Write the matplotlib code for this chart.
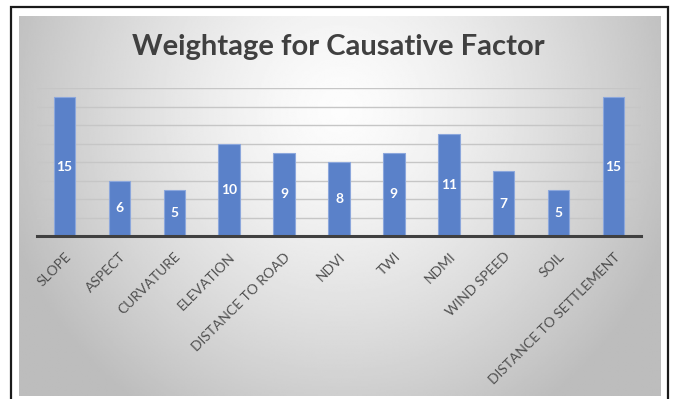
import numpy as np
import matplotlib.pyplot as plt
from matplotlib.patches import Rectangle

factors = ["SLOPE", "ASPECT", "CURVATURE", "ELEVATION", "DISTANCE TO ROAD", "NDVI",
           "TWI", "NDMI", "WIND SPEED", "SOIL", "DISTANCE TO SETTLEMENT"]
weights = [15, 6, 5, 10, 9, 8, 9, 11, 7, 5, 15]

W, H = 673, 399
fig = plt.figure(figsize=(W / 100, H / 100), dpi=100)
fig.patch.set_facecolor("white")


def px(x0, y0, x1, y1):
    # pixel box (top-left origin) -> figure fraction rect
    return [x0 / W, 1 - y1 / H, (x1 - x0) / W, (y1 - y0) / H]


# radial grey background
bg = fig.add_axes(px(19, 16, 661, 396))
bg.set_axis_off()
gx, gy = np.meshgrid(np.linspace(19, 661, 400), np.linspace(16, 396, 240))
d = np.sqrt(((gx - 340) / 330) ** 2 + ((gy - 110) / 340) ** 2)
shade = np.clip(0.99 - 0.23 * d ** 1.4, 0.74, 1.0)
bg.imshow(shade, cmap="gray", vmin=0, vmax=1, aspect="auto", interpolation="bilinear")

# outer frame
fig.patches.append(Rectangle((11 / W, -0.1), (668 - 11) / W, 1.1 - 7 / H,
                             transform=fig.transFigure, fill=False,
                             edgecolor="#1a1a1a", linewidth=1.6))

ax = fig.add_axes(px(37, 88, 641, 236))
ax.patch.set_alpha(0)
x = np.arange(len(factors))
bars = ax.bar(x, weights, width=0.39, color="#5a81c9", edgecolor="#8ca7dc",
              linewidth=0.8, zorder=3)
for xi, v in zip(x, weights):
    ax.text(xi, v / 2, str(v), ha="center", va="center", color="white",
            fontsize=10, fontweight="bold", family="Lato", zorder=4)

ax.set_xlim(-0.5, len(factors) - 0.5)
ax.set_ylim(0, 16)
ax.set_yticks(np.arange(2, 17, 2))
ax.yaxis.grid(True, color="#c6c6c6", linewidth=1.0)
ax.set_axisbelow(True)
ax.tick_params(axis="y", left=False, labelleft=False)
ax.tick_params(axis="x", bottom=False, pad=7)
for s in ["top", "right", "left"]:
    ax.spines[s].set_visible(False)
ax.spines["bottom"].set_color("#404040")
ax.spines["bottom"].set_linewidth(2.2)
ax.spines["bottom"].set_zorder(5)

ax.set_xticks(x)
ax.set_xticklabels(factors, rotation=45, ha="right", va="top",
                   rotation_mode="anchor", fontsize=10, color="#505050", family="Lato")

fig.text(338 / W, 1 - 47 / H, "Weightage for Causative Factor", ha="center", va="center",
         fontsize=21, fontweight="bold", color="#404040", family="Lato")

fig.savefig("out.png", dpi=100)
